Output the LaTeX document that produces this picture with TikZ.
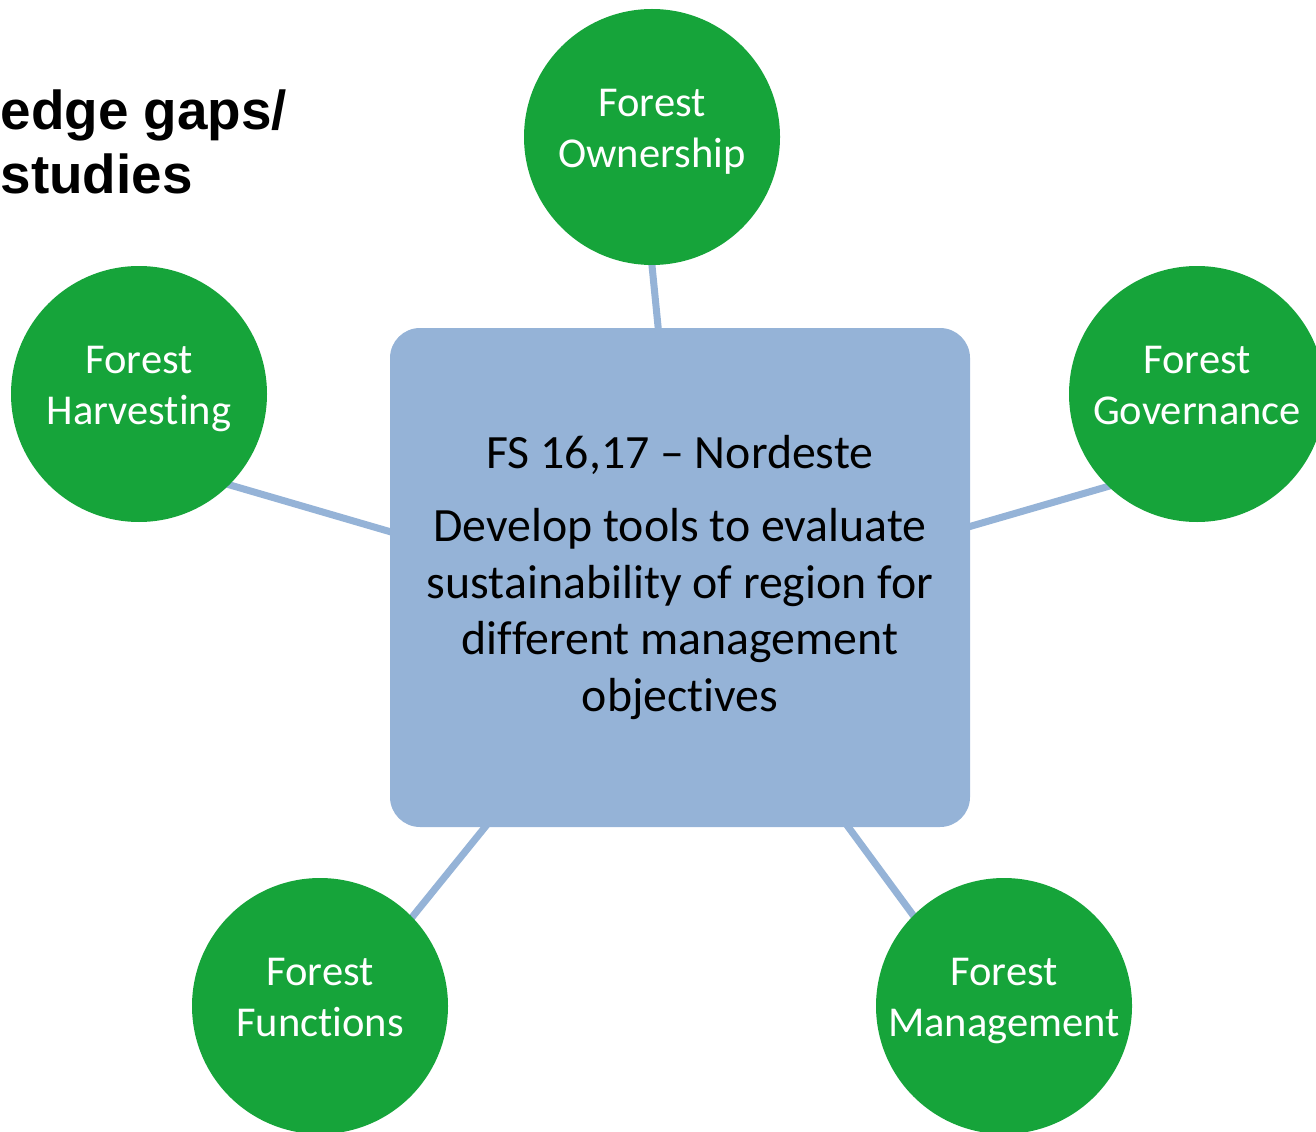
\documentclass[tikz,border=0pt]{standalone}
\usepackage{fontspec}
\setmainfont{Carlito}[Ligatures=NoCommon]
\newfontfamily\headfont{Liberation Sans}
\usetikzlibrary{backgrounds}
\definecolor{leaf}{RGB}{22,164,58}
\definecolor{steel}{RGB}{149,179,215}
\tikzset{
	topic/.style={circle,fill=leaf,text=white,minimum size=25.6mm,inner sep=0pt,text depth=1.8mm,
		align=center,font=\fontsize{12.1}{14.5}\selectfont},
	hub/.style={fill=steel,rounded corners=3mm,minimum width=58mm,minimum height=49.9mm,
		inner sep=0pt,align=center,font=\fontsize{13.6}{16.2}\selectfont},
	link/.style={steel,line width=2pt,shorten <=-1mm,shorten >=-1mm},
	head/.style={anchor=base west,inner sep=0pt,font=\headfont\bfseries\fontsize{15.6}{18.2}\selectfont},
}
\begin{document}
\begin{tikzpicture}[x=0.1mm,y=-0.1mm]
			\useasboundingbox (0,0) rectangle (1316,1131);
			
			\node[head] (t1)at(0,130) {edge gaps/};
			\node[head] (t2)at(0,194) {studies};
			
			\node[hub] (fs)at(680,577.5) {FS 16,17 – Nordeste\\[1.6mm]
				Develop tools to evaluate\\sustainability of region for\\different management\\objectives};
			
			\node[topic] (own)at(652,137) {Forest\\Ownership};
			\node[topic] (harv)at(139,394) {Forest\\Harvesting};
			\node[topic] (gov)at(1197,394) {Forest\\Governance};
			\node[topic] (func)at(320,1006) {Forest\\Functions};
			\node[topic] (mgmt)at(1004,1006) {Forest\\Management};
			
			\begin{scope}[on background layer]
			\draw[link] (own.-90) -- (fs.95.7);
			\draw[link] (harv.-45.6) -- (fs.171.3);
			\draw[link] (gov.-134.4) -- (fs.10.3);
			\draw[link] (func.44.7) -- (fs.-128);
			\draw[link] (mgmt.135) -- (fs.-56.2);
			\end{scope}
		\end{tikzpicture}
\end{document}
